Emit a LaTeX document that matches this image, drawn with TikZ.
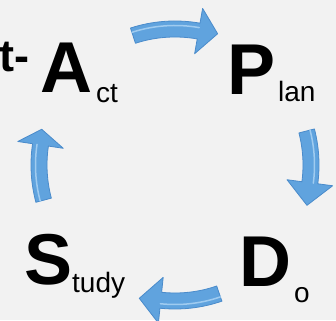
\documentclass[tikz,border=0pt]{standalone}
\usepackage{fontspec}
\setmainfont{Liberation Sans}
\definecolor{bgcol}{HTML}{F2F2F2}
\definecolor{arrfill}{HTML}{60A3DE}
\definecolor{arredge}{HTML}{4A8BCB}
\definecolor{arrlight}{HTML}{9FCBF0}
\newcommand{\Ro}{144}
\newcommand{\Ri}{128}
\newcommand{\Rh}{159}
\newcommand{\Rhi}{113}
\newcommand{\Rt}{138}
\newcommand{\pdsaarrow}[3]{%
  \fill[arrowbody] (#1:\Ro) arc[start angle=#1,end angle=#2,radius=\Ro]
    -- (#2:\Rh) -- (#3:\Rt) -- (#2:\Rhi) -- (#2:\Ri)
    arc[start angle=#2,end angle=#1,radius=\Ri] -- cycle;
  \draw[arrowshine] (#1:139.5) arc[start angle=#1,end angle=#2,radius=139.5];
}
\begin{document}
\begin{tikzpicture}[x=1pt,y=1pt,
  bigletter/.style={inner sep=0pt,anchor=base west,font=\fontsize{72}{72}\selectfont\bfseries},
  smalltext/.style={inner sep=0pt,anchor=base west,font=\fontsize{28}{28}\selectfont},
  arrowbody/.style={fill=arrfill,draw=arredge,line width=0.8pt,line join=round},
  arrowshine/.style={draw=arrlight,line width=1.5pt,line cap=round}]
\fill[bgcol] (0,0) rectangle (336,320);
\useasboundingbox (0,0) rectangle (336,320);
% texts
\node[inner sep=0pt,anchor=base east,font=\fontsize{45}{45}\selectfont\bfseries] (cut) at (30,248) {t-};
\node[bigletter] (A) at (40,227) {A};
\node[smalltext] (act) at (96,217) {ct};
\node[bigletter] (P) at (227.5,225) {P};
\node[smalltext] (plan) at (278,218) {lan};
\node[bigletter] (D) at (239.5,33) {D};
\node[smalltext] (do) at (294,17) {o};
\node[bigletter] (S) at (24.5,35) {S};
\node[smalltext] (study) at (72,27) {tudy};
% arrows
\begin{scope}[shift={(175,155)}]
  \pdsaarrow{108}{80}{72}
  \pdsaarrow{14.5}{-7.5}{-17}
  \pdsaarrow{-71}{-96}{-105}
  \pdsaarrow{195}{171.5}{165}
\end{scope}
\end{tikzpicture}
\end{document}
